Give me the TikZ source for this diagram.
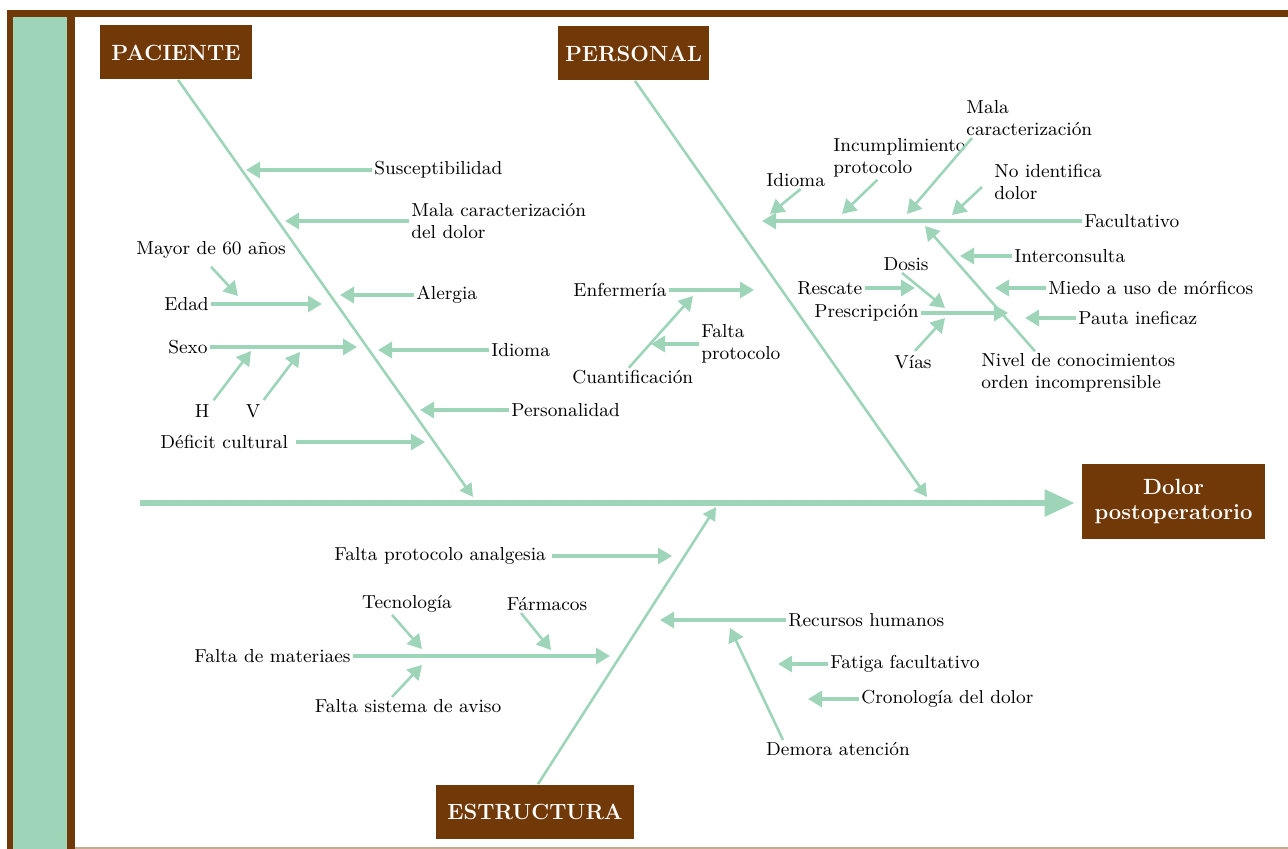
\documentclass[tikz,border=0pt]{standalone}
\usepackage{tikz}
\usetikzlibrary{arrows.meta, positioning}

\definecolor{brownbox}{RGB}{114,57,8}
\definecolor{fishgreen}{RGB}{158,213,185}
\definecolor{edgetan}{RGB}{196,170,145}

\begin{document}
\begin{tikzpicture}[
  x=0.5pt, y=-0.5pt,
  cat/.style = {
    fill=brownbox, text=white, inner sep=0pt,
    align=center, minimum height=27pt,
    font=\bfseries\fontsize{11}{12.6}\selectfont
  },
  lbl/.style = {
    inner sep=1pt, align=left,
    font=\fontsize{9.4}{11}\selectfont
  },
  spine/.style = {
    draw=fishgreen, line width=3pt,
    -{Triangle[length=15pt,width=13pt]}
  },
  bone/.style = {
    draw=fishgreen, line width=1.3pt,
    -{Triangle[length=6.5pt,width=7pt]}
  },
  sub/.style = {
    draw=fishgreen, line width=1.6pt,
    -{Triangle[length=7pt,width=8pt]}
  },
  twig/.style = {
    sub, line width=1.3pt
  }
]

\useasboundingbox (0,0) rectangle (1288,849);

% ====== FRAME ======
\fill[brownbox] (7,10) rectangle (1288,17);
\fill[brownbox] (7,10) rectangle (75,849);
\fill[fishgreen] (13,17) rectangle (67,849);
\draw[edgetan, line width=0.6pt] (75,848) -- (1288,848);

% ====== CATEGORY BOXES ======
\node[cat, minimum width=76pt] (pac) at (176,52.5) {PACIENTE};
\node[cat, minimum width=75.5pt] (pers) at (633.5,53.5) {PERSONAL};
\node[cat, minimum width=99pt] (estr) at (535,811.5) {ESTRUCTURA};
\node[cat, minimum width=91.5pt, minimum height=37.5pt] (dolor) at (1173.5,501.5)
  {Dolor\\postoperatorio};

% ====== SPINE AND BONES ======
\coordinate (tail) at (140,503);
\coordinate (pactip) at (473,497);
\coordinate (perstip) at (927,497);
\coordinate (estrtip) at (716,507);

\draw[spine] (tail) -- ([xshift=-3.5pt,yshift=-0.75pt]dolor.west);
\draw[bone] ([xshift=1pt]pac.south) -- (pactip);
\draw[bone] ([xshift=0.75pt]pers.south) -- (perstip);
\draw[bone] ([xshift=1.5pt]estr.north) -- (estrtip);

% ====== PACIENTE ======
\node[lbl, anchor=west] (susc) at (372,170) {Susceptibilidad};
\node[lbl, anchor=west] (malap) at (409,221) {Mala caracterización\\del dolor};
\node[lbl, anchor=west] (mayor) at (134,250) {Mayor de 60 años};
\node[lbl, anchor=west] (edad) at (162,304) {Edad};
\node[lbl, anchor=west] (alergia) at (414,295) {Alergia};
\node[lbl, anchor=west] (sexo) at (166,347) {Sexo};
\node[lbl] (hl) at (202,411) {H};
\node[lbl] (vl) at (253,411) {V};
\node[lbl, anchor=west] (idiomap) at (489,350) {Idioma};
\node[lbl, anchor=west] (person) at (509,410) {Personalidad};
\node[lbl, anchor=west] (deficit) at (158,442) {Déficit cultural};

\coordinate (c-susc) at (246,170);
\coordinate (c-malap) at (285,221);
\coordinate (c-mayor) at (238,296);
\coordinate (c-edad) at (322,305);
\coordinate (c-alergia) at (340,294);
\coordinate (c-sexo) at (357,348);
\coordinate (c-hl) at (251,351);
\coordinate (c-vl) at (300,352);
\coordinate (c-idiomap) at (378,351);
\coordinate (c-person) at (420,410);
\coordinate (c-deficit) at (425,443);

\draw[sub] (susc.west) -- (c-susc |- susc.west);
\draw[sub] (malap.west) -- (c-malap |- malap.west);
\draw[twig] ([yshift=-3pt]mayor.south) -- (c-mayor);
\draw[sub] (edad.east) -- (c-edad |- edad.east);
\draw[sub] (alergia.west) -- (c-alergia |- alergia.west);
\draw[sub] (sexo.east) -- (c-sexo |- sexo.east);
\draw[twig] ([xshift=1pt,yshift=1pt]hl.north east) -- (c-hl);
\draw[twig] ([xshift=0.5pt,yshift=1pt]vl.north east) -- (c-vl);
\draw[sub] (idiomap.west) -- (c-idiomap |- idiomap.west);
\draw[sub] (person.west) -- (c-person |- person.west);
\draw[sub] ([xshift=3pt]deficit.east) -- (c-deficit |- deficit.east);

% ====== PERSONAL ======
\node[lbl, anchor=west] (enf) at (571,290) {Enfermería};
\node[lbl, anchor=west] (cuant) at (570,377) {Cuantificación};
\node[lbl, anchor=west] (faltap) at (699,344) {Falta\\protocolo};
\node[lbl, anchor=west] (fac) at (1082,221) {Facultativo};
\node[lbl, anchor=west] (idiomaf) at (764,180) {Idioma};
\node[lbl, anchor=west] (incum) at (831,158) {Incumplimiento\\protocolo};
\node[lbl, anchor=west] (malac) at (964,118) {Mala\\caracterización};
\node[lbl, anchor=west] (noid) at (992,182) {No identifica\\dolor};
\node[lbl, anchor=west] (nivel) at (979,373) {Nivel de conocimientos\\orden incomprensible};
\node[lbl, anchor=west] (intercon) at (1012,256) {Interconsulta};
\node[lbl, anchor=west] (miedo) at (1046,288) {Miedo a uso de mórficos};
\node[lbl, anchor=west] (pauta) at (1076,318) {Pauta ineficaz};
\node[lbl, anchor=west] (presc) at (812,313) {Prescripción};
\node[lbl, anchor=west] (resc) at (795,288) {Rescate};
\node[lbl] (dosis) at (906,264) {Dosis};
\node[lbl] (vias) at (913,362) {Vías};

\coordinate (c-enf) at (754,291);
\coordinate (c-cuant) at (693,296);
\coordinate (c-faltap) at (651,345);
\coordinate (c-fac) at (762,222);
\coordinate (c-idiomaf) at (770,214);
\coordinate (c-incum) at (842,214);
\coordinate (c-malac) at (907,214);
\coordinate (c-noid) at (952,215);
\coordinate (c-nivel) at (925,226);
\coordinate (c-intercon) at (960,256);
\coordinate (c-miedo) at (995,288);
\coordinate (c-pauta) at (1025,317);
\coordinate (c-presc) at (1008,314);
\coordinate (c-resc) at (915,287);
\coordinate (c-dosis) at (945,308);
\coordinate (c-vias) at (945,318);

\draw[sub] (enf.east) -- (c-enf |- enf.east);
\draw[twig] ([xshift=-2pt]cuant.north) -- (c-cuant);
\draw[sub] (faltap.west) -- (c-faltap |- faltap.west);
\draw[sub] (fac.west) -- (c-fac |- fac.west);
\draw[twig] ([xshift=2.5pt]idiomaf.south) -- (c-idiomaf);
\draw[twig] ([xshift=-11pt]incum.south) -- (c-incum);
\draw[twig] ([xshift=4pt]malac.south west) -- (c-malac);
\draw[twig] ([xshift=-5pt,yshift=-2.5pt]noid.west) -- (c-noid);
\draw[twig] ([xshift=28pt]nivel.north west) -- (c-nivel);
\draw[sub] (intercon.west) -- (c-intercon |- intercon.west);
\draw[sub] (miedo.west) -- (c-miedo |- miedo.west);
\draw[sub] (pauta.west) -- (c-pauta |- pauta.west);
\draw[sub] (presc.east) -- (c-presc |- presc.east);
\draw[sub] (resc.east) -- (c-resc |- resc.east);
\draw[twig] ([xshift=-2pt]dosis.south) -- (c-dosis);
\draw[twig] ([xshift=1pt,yshift=1pt]vias.north) -- (c-vias);

% ====== ESTRUCTURA ======
\node[lbl, anchor=west] (fpa) at (332,556) {Falta protocolo analgesia};
\node[lbl] (tecno) at (407,604) {Tecnología};
\node[lbl] (farm) at (547,604) {Fármacos};
\node[lbl, anchor=west] (fmat) at (192,656) {Falta de materiaes};
\node[lbl] (fsa) at (408,706) {Falta sistema de aviso};
\node[lbl, anchor=west] (rrhh) at (786,620) {Recursos humanos};
\node[lbl, anchor=west] (fatiga) at (828,664) {Fatiga facultativo};
\node[lbl, anchor=west] (crono) at (859,699) {Cronología del dolor};
\node[lbl] (demora) at (838,749) {Demora atención};

\coordinate (c-fpa) at (672,556);
\coordinate (c-tecno) at (422,649);
\coordinate (c-farm) at (551,650);
\coordinate (c-fmat) at (610,656);
\coordinate (c-fsa) at (422,665);
\coordinate (c-rrhh) at (660,621);
\coordinate (c-fatiga) at (778,664);
\coordinate (c-crono) at (808,699);
\coordinate (c-demora) at (730,628);

\draw[sub] ([xshift=2pt]fpa.east) -- (c-fpa |- fpa.east);
\draw[twig] ([xshift=-7.5pt]tecno.south) -- (c-tecno);
\draw[twig] ([xshift=-13pt]farm.south) -- (c-farm);
\draw[sub] (fmat.east) -- (c-fmat |- fmat.east);
\draw[twig] ([xshift=-8pt]fsa.north) -- (c-fsa);
\draw[sub] (rrhh.west) -- (c-rrhh |- rrhh.west);
\draw[sub] (fatiga.west) -- (c-fatiga |- fatiga.west);
\draw[sub] (crono.west) -- (c-crono |- crono.west);
\draw[twig] ([xshift=-27.5pt]demora.north) -- (c-demora);

\end{tikzpicture}
\end{document}
